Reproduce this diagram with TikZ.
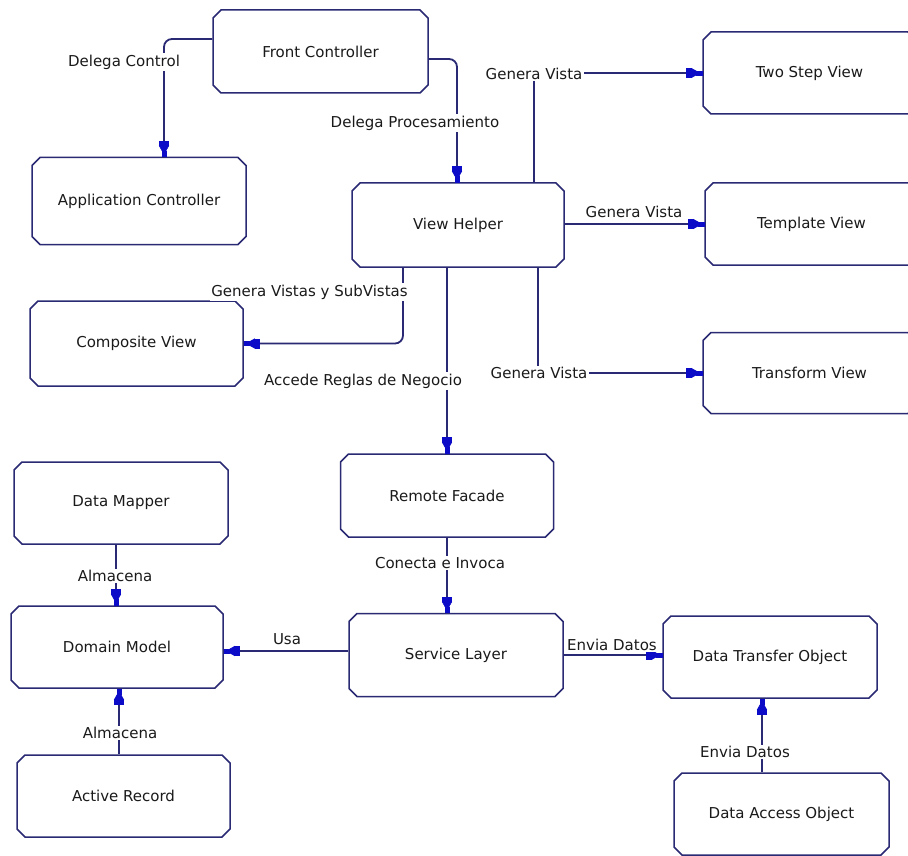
\documentclass[tikz,border=0pt]{standalone}
\usepackage{fontspec}
\setmainfont{DejaVu Sans}
\usetikzlibrary{shapes.misc,arrows.meta}
\definecolor{edge}{HTML}{2A2A74}
\definecolor{tipblue}{HTML}{0C0CC8}
\definecolor{ink}{HTML}{1A1A1A}
\tikzset{
  txt/.style={font=\fontsize{15}{18}\selectfont, text=ink},
  box/.style={txt, chamfered rectangle, chamfered rectangle xsep=4pt,
    chamfered rectangle ysep=4pt,
    draw=edge, line width=1.5pt, fill=white, inner sep=0pt,
    minimum width=213pt, minimum height=83pt},
  link/.style={draw=edge, line width=1.8pt,
    -{Rectangle[length=5pt,width=10pt,line width=0.6pt,color=tipblue,sep=0pt]%
      Triangle[length=9pt,width=10pt,line width=0.6pt,color=tipblue,sep=-4pt]%
      Rectangle[length=6pt,width=4.5pt,line width=0.6pt,color=tipblue]}},
  lbl/.style={txt, fill=white, inner sep=1.5pt},
}
\begin{document}
\begin{tikzpicture}[x=1pt,y=-1pt]
\useasboundingbox (0,0) rectangle (908,856);
\clip (0,0) rectangle (908,856);
\fill[white] (0,0) rectangle (908,856);

% pattern boxes
\node[box, minimum width=215pt] (fc)   at (320.5,51.5) {Front Controller};
\node[box, minimum width=214pt, minimum height=87pt] (ac) at (139,201) {Application Controller};
\node[box, minimum width=212pt, minimum height=84pt] (vh) at (458,225) {View Helper};
\node[box, minimum height=82pt] (tsv)  at (809.5,73) {Two Step View};
\node[box, minimum height=82pt] (tpl)  at (811.5,224) {Template View};
\node[box, minimum height=81pt] (trv)  at (809.5,373) {Transform View};
\node[box, minimum height=85pt] (cv)   at (136.5,343.5) {Composite View};
\node[box] (rf)   at (447,495.5) {Remote Facade};
\node[box, minimum width=214pt, minimum height=82pt] (dmap) at (121,503) {Data Mapper};
\node[box, minimum width=212pt, minimum height=82pt] (dom)  at (117,647) {Domain Model};
\node[box, minimum width=214pt] (sl)   at (456,655) {Service Layer};
\node[box, minimum width=214pt, minimum height=82pt] (dto)  at (770,657) {Data Transfer Object};
\node[box, minimum height=82pt] (ar)   at (123.5,796) {Active Record};
\node[box, minimum width=215pt, minimum height=82pt] (dao)  at (781.5,814) {Data Access Object};

% connectors
\draw[link, rounded corners=8pt] ([yshift=12.5pt]fc.west) -| ([xshift=25pt]ac.north);
\draw[link, rounded corners=8pt] ([yshift=-7.5pt]fc.east) -| ([xshift=-1pt]vh.north);
\draw[link] ([xshift=76pt]vh.north) |- (tsv.west);
\draw[link] (vh.east |- tpl.west) -- (tpl.west);
\draw[link] ([xshift=80pt]vh.south) |- (trv.west);
\draw[link, rounded corners=8pt] ([xshift=-55pt]vh.south) |- (cv.east);
\draw[link] (rf.north |- vh.south) -- (rf.north);
\draw[link] (rf.south) -- (rf.south |- sl.north);
\draw[link] ([yshift=4pt]sl.west) -- ([yshift=4pt]sl.west -| dom.east);
\draw[link] (sl.east) -- (sl.east -| dto.west);
\draw[link] ([xshift=-19.5pt]dao.north) -- ([xshift=-19.5pt]dao.north |- dto.south);
\draw[link] ([xshift=-5pt]dmap.south) -- ([xshift=-5pt]dmap.south |- dom.north);
\draw[link] ([xshift=-4.5pt]ar.north) -- ([xshift=-4.5pt]ar.north |- dom.south);

% connector labels
\node[lbl] (l1)  at (124,62)    {Delega Control};
\node[lbl] (l2)  at (415,123)   {Delega Procesamiento};
\node[lbl] (l3)  at (534,74)    {Genera Vista};
\node[lbl] (l4)  at (634,212)   {Genera Vista};
\node[lbl] (l5)  at (539,373)   {Genera Vista};
\node[lbl] (l6)  at (309.5,292) {Genera Vistas y SubVistas};
\node[lbl] (l7)  at (363,381)   {Accede Reglas de Negocio};
\node[lbl] (l8)  at (440,563)   {Conecta e Invoca};
\node[lbl] (l9)  at (287,639)   {Usa};
\node[lbl] (l10) at (612,645)   {Envia Datos};
\node[lbl] (l11) at (745,752)   {Envia Datos};
\node[lbl] (l12) at (115,576)   {Almacena};
\node[lbl] (l13) at (120,733)   {Almacena};
\end{tikzpicture}
\end{document}
